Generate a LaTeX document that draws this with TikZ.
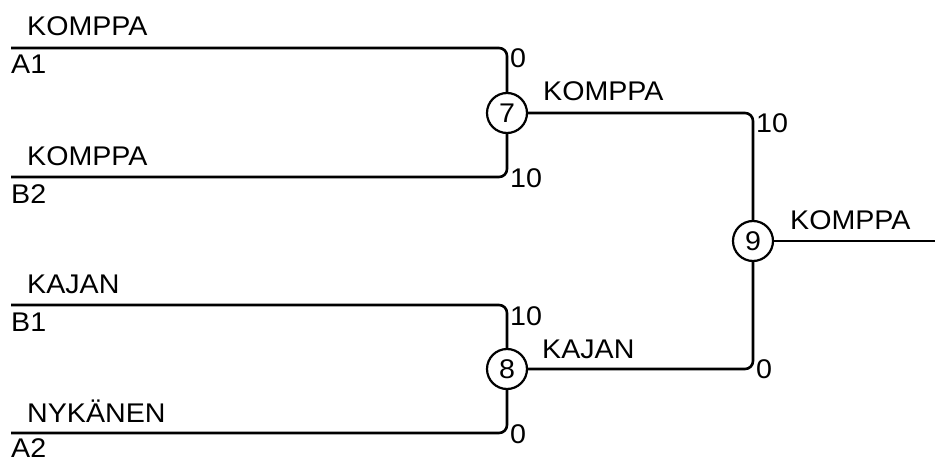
\documentclass[tikz,border=0pt]{standalone}
\usepackage{fontspec}
\setmainfont[FakeStretch=1.06]{Liberation Sans}
\begin{document}
\begin{tikzpicture}[x=1pt,y=-1pt,
  wire/.style={line width=2.6pt, rounded corners=8pt},
  match/.style={circle, draw, line width=2.2pt, minimum size=40pt, inner sep=0pt, font=\fontsize{27}{30}\selectfont},
  lbl/.style={anchor=base west, inner sep=0pt, font=\fontsize{27}{30}\selectfont}]
\useasboundingbox (0,0) rectangle (935,460);
\coordinate (a1) at (11,48);
\coordinate (b2) at (11,177);
\coordinate (b1) at (11,305);
\coordinate (a2) at (11,433);
\coordinate (e) at (935,241);
\node[match] (m7) at (507,113) {7};
\node[match] (m8) at (507,369) {8};
\node[match] (m9) at (753,241) {9};
\draw[wire] (a1) -| (m7);
\draw[wire] (b2) -| (m7);
\draw[wire] (b1) -| (m8);
\draw[wire] (a2) -| (m8);
\draw[wire] (m7) -| (m9);
\draw[wire] (m8) -| (m9);
\draw[wire] (m9) -- (e);
% player names and seeds
\node[lbl] (nA1) at (27,36) {KOMPPA};
\node[lbl] (sA1) at (11,74) {A1};
\node[lbl] (nB2) at (27,165) {KOMPPA};
\node[lbl] (sB2) at (11,203) {B2};
\node[lbl] (nB1) at (27,293) {KAJAN};
\node[lbl] (sB1) at (11,331) {B1};
\node[lbl] (nA2) at (27,422) {NYKÄNEN};
\node[lbl] (sA2) at (11,457) {A2};
% scores
\node[lbl] (c1) at (510,68) {0};
\node[lbl] (c2) at (510,187) {10};
\node[lbl] (c3) at (510,325) {10};
\node[lbl] (c4) at (510,443) {0};
\node[lbl] (c5) at (756,132) {10};
\node[lbl] (c6) at (756,378) {0};
% winners
\node[lbl] (w7) at (543,100) {KOMPPA};
\node[lbl] (w8) at (542,358) {KAJAN};
\node[lbl] (w9) at (790,229) {KOMPPA};
\end{tikzpicture}
\end{document}
